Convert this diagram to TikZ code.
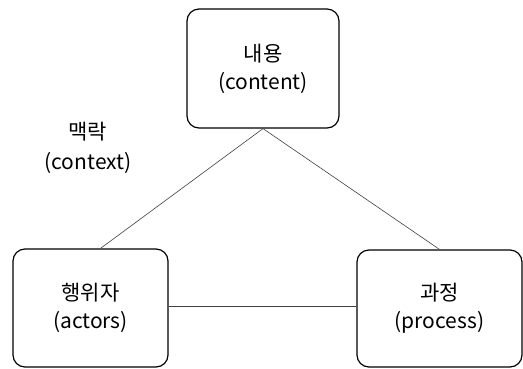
\documentclass[tikz,border=0pt]{standalone}
\usepackage{fontspec}
\newfontfamily\kr{Noto Sans CJK KR}
\begin{document}
\begin{tikzpicture}[x=1pt,y=-1pt,
  box/.style={draw, rounded corners=12pt, line width=1.2pt, inner sep=0pt, align=center,
    font=\kr\fontsize{21}{28}\selectfont},
  conn/.style={draw=black!75, line width=0.6pt},
  lbl/.style={align=center, font=\kr\fontsize{21}{30}\selectfont}]
\useasboundingbox (0,0) rectangle (523,368);
\node[box, minimum width=152pt, minimum height=119pt] (top) at (263,68.5) {내용\\(content)};
\node[box, minimum width=155pt, minimum height=118pt] (left) at (90.5,308) {행위자\\(actors)};
\node[box, minimum width=165pt, minimum height=117pt] (right) at (439.5,308.5) {과정\\(process)};
\node[lbl] (ctx) at (88,148) {맥락\\(context)};
\draw[conn] (top.south) -- ([xshift=10pt]left.north);
\draw[conn] (top.south) -- (right.north);
\draw[conn] ([yshift=2pt]left.east) -- ([yshift=2pt]left.east -| right.west);
\end{tikzpicture}
\end{document}
